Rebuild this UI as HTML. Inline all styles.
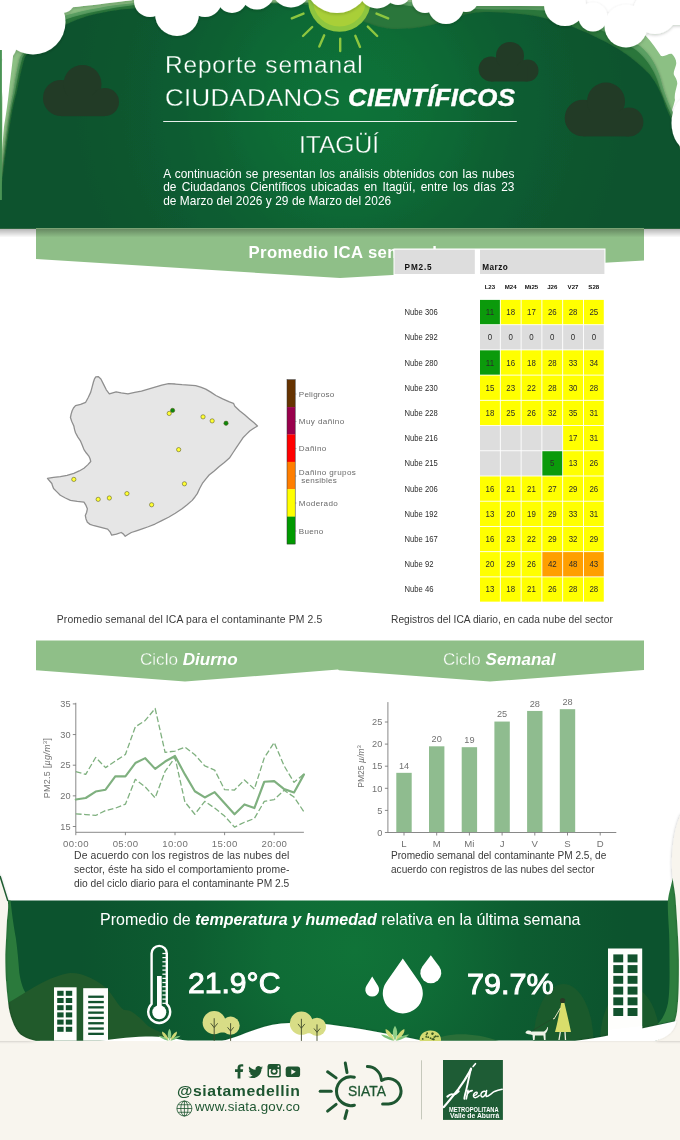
<!DOCTYPE html><html><head><meta charset="utf-8"><title>Reporte semanal</title><style>
html,body{margin:0;padding:0}
body{width:680px;height:1140px;position:relative;overflow:hidden;background:#fff;font-family:"Liberation Sans",sans-serif}
#bg{position:absolute;left:0;top:0;will-change:transform}
.t{position:absolute;white-space:nowrap;line-height:1;margin:0;padding:0}
.j{position:absolute;text-align:justify;text-align-last:justify;white-space:nowrap;line-height:1}
b.i{font-weight:bold;font-style:italic}
</style></head><body>
<svg id="bg" width="680" height="1140" viewBox="0 0 680 1140">
<defs>
<radialGradient id="hg" cx="350" cy="105" r="275" gradientUnits="userSpaceOnUse">
<stop offset="0" stop-color="#107338"/><stop offset="0.3" stop-color="#0f6c36"/><stop offset="0.6" stop-color="#0d5d31"/><stop offset="0.95" stop-color="#0c542e"/><stop offset="1" stop-color="#0c532e"/></radialGradient>
<linearGradient id="hsh" x1="0" y1="0" x2="0" y2="1"><stop offset="0" stop-color="#000" stop-opacity="0.30"/><stop offset="1" stop-color="#000" stop-opacity="0"/></linearGradient>
<filter id="cs" x="-10%" y="-10%" width="120%" height="140%"><feDropShadow dx="0" dy="1.2" stdDeviation="1.4" flood-color="#0a2a14" flood-opacity="0.22"/></filter>
<filter id="ls" x="-10%" y="-10%" width="120%" height="120%"><feDropShadow dx="0" dy="1" stdDeviation="1.5" flood-color="#000" flood-opacity="0.4"/></filter>
<clipPath id="hc"><rect x="0" y="0" width="680" height="228.5"/></clipPath>
</defs>
<g clip-path="url(#hc)">
<rect x="0" y="0" width="680" height="228" fill="#ffffff"/>
<path d="M0,229 L0,120 C1,100 4,80 12,56 C25,35 45,18 67,8.5 C85,5 110,2 135,0 L560,0 L600,20 L645,35 C652,42 657,50 661,56 C665,57 669,53 672,54 C675,57 677,61 676,65 C675,69 673,72 674,75 C676,78 678,82 677,85 C676,90 674,95 675,100 C674,104 673,107 672,110 L680,150 L680,229 Z" fill="#8cc084"/>
<path filter="url(#ls)" d="M0,229 L0,192 C1,182 1.8,172 2.6,163 C4,150 5.5,138 7,127.7 C9,113 11,102 13,92.6 C15,80 17,68 20,57 C31,40 48,24 67,15 C85,10 110,5 135,3 L300,2 L400,2 C450,3 500,5 548,7 C580,14 615,30 640,46 C650,54 657,66 661,80 C664,92 668,102 674,115 L680,150 L680,229 Z" fill="#5a9f62"/>
<path filter="url(#ls)" d="M0,229 L0,194 C1.5,184 2.6,173 3.5,163 C5,150 6.8,138 8.3,127.7 C10.5,113 12.5,102 15,92.6 C17,81 19.5,68 22.5,57 C32,43 50,28 67,19 C85,13 110,8 135,5 L300,3 L395,4 C420,8 440,9 470,9 C500,10 530,9 548,11 C580,18 612,34 636,50 C646,58 654,70 658,82 C661,93 666,104 672,117 L680,150 L680,229 Z" fill="#2a763b"/>
<path filter="url(#ls)" d="M0,229 L0,200 C1,192 2.5,178 4.4,163 C6.5,148 8,138 9.6,127.7 C12,112 14,102 16.7,92.6 C19,82 21.5,68 25,57 C31,48 38,42 45,37 C52,32 60,27 67,24 C80,18 90,15 101,13 C115,10 125,9 135,8.5 C200,3 260,2 308,5 L368,23 C378,27 388,29 396,29 C408,29 418,28 427,26 C440,23 450,20 458,17 C468,13 478,12 489,12 C500,12 510,13 520,14 C532,15 542,17 551,20 C562,23 572,26 580,30 C595,36 610,44 620,50 C632,58 642,66 650,75 C657,84 662,95 665,105 C668,112 670,117 673,122 L680,150 L680,229 Z" fill="url(#hg)"/>
<g fill="#223b26"><circle cx="61" cy="98" r="18"/><circle cx="82.5" cy="84" r="19"/><circle cx="105" cy="102" r="14"/><rect x="61" y="96" width="44" height="20.2"/></g>
<g fill="#223b26"><circle cx="491" cy="69" r="12.4"/><circle cx="510" cy="56" r="14"/><circle cx="527.5" cy="70.5" r="11"/><rect x="491" y="66" width="36.5" height="15.5"/></g>
<g fill="#223b26"><circle cx="583" cy="118" r="18.3"/><circle cx="606" cy="101.5" r="19"/><circle cx="629" cy="122" r="14.4"/><rect x="583" y="112" width="46" height="24.4"/></g>
<circle cx="339.5" cy="0.5" r="31.3" fill="#8dc63f"/><circle cx="339.5" cy="0" r="26.5" fill="#a9cf38"/>
<g stroke="#8dc63f" stroke-width="2.4" stroke-linecap="round"><line x1="291.8" y1="18.4" x2="303.5" y2="13.6"/><line x1="303" y1="36" x2="312.2" y2="27"/><line x1="319.3" y1="46.6" x2="324.2" y2="35.3"/><line x1="340.2" y1="51" x2="340.2" y2="38.8"/><line x1="360" y1="47" x2="355.3" y2="35.8"/><line x1="377.2" y1="36" x2="367.8" y2="26.6"/><line x1="388.2" y1="18.4" x2="376.5" y2="13.6"/></g>
<g fill="#fff" filter="url(#cs)"><circle cx="33" cy="22" r="32.5"/><circle cx="62" cy="0" r="13"/><circle cx="5" cy="48" r="11"/><circle cx="150" cy="1" r="16"/><circle cx="177" cy="14" r="22"/><circle cx="205" cy="0" r="17"/><circle cx="232" cy="-2" r="15"/><circle cx="257" cy="-8" r="17.5"/><circle cx="291" cy="-12" r="19.5"/><circle cx="337" cy="-20" r="33"/><circle cx="377" cy="-10" r="18.5"/><circle cx="398" cy="-8" r="13"/><circle cx="446" cy="6" r="18"/><circle cx="425" cy="0" r="13"/><circle cx="466" cy="0" r="12"/><circle cx="565" cy="5" r="21"/><circle cx="593" cy="17" r="14.5"/><circle cx="626" cy="26" r="21.5"/><circle cx="655" cy="12" r="22"/><rect x="-5" y="-5" width="75" height="12"/><rect x="-6" y="0" width="12" height="50"/><path d="M60,-5 L60,8 C80,7 110,3 140,-1 L140,-5 Z"/><rect x="470" y="-5" width="90" height="11"/><rect x="655" y="-5" width="30" height="30"/><ellipse cx="691" cy="123" rx="19.5" ry="28"/></g>
<path d="M2.4,50 L13.2,55 C11.5,70 10,82 8.8,92.6 C7.5,105 5.5,118 3.9,127.7 C3,138 2.6,145 2.3,152 Z" fill="#fff"/><rect x="0" y="50" width="1.9" height="150" fill="#4a9455"/>
</g>
<path d="M36,228 L644,228 L644,260.5 L340,278 L36,259 Z" fill="#8fbf88"/>
<rect x="0" y="228.5" width="680" height="9" fill="url(#hsh)"/>
<path d="M36,640.5 L644,640.5 L644,670 L490,681.6 L339,670.3 L338,669.6 L185,681.6 L36,670.3 Z" fill="#8fbf88"/>
<text x="248.5" y="257.5" font-family="Liberation Sans, sans-serif" font-size="16.7" font-weight="bold" fill="#fff" textLength="188.5" lengthAdjust="spacing">Promedio ICA semanal</text><rect x="163.2" y="121" width="353.6" height="1" fill="#fff" opacity="0.9"/>
<rect x="393.5" y="248.5" width="212" height="356" fill="#fff"/>
<rect x="394.5" y="249.7" width="80.3" height="24.3" fill="#dddddd"/>
<rect x="480" y="249.7" width="124.4" height="24.3" fill="#dddddd"/>
<rect x="480.00" y="299.90" width="19.88" height="24.32" fill="#0b9a0b"/><rect x="500.78" y="299.90" width="19.88" height="24.32" fill="#ffff00"/><rect x="521.56" y="299.90" width="19.88" height="24.32" fill="#ffff00"/><rect x="542.34" y="299.90" width="19.88" height="24.32" fill="#ffff00"/><rect x="563.12" y="299.90" width="19.88" height="24.32" fill="#ffff00"/><rect x="583.90" y="299.90" width="19.88" height="24.32" fill="#ffff00"/><rect x="480.00" y="325.12" width="19.88" height="24.32" fill="#dddddd"/><rect x="500.78" y="325.12" width="19.88" height="24.32" fill="#dddddd"/><rect x="521.56" y="325.12" width="19.88" height="24.32" fill="#dddddd"/><rect x="542.34" y="325.12" width="19.88" height="24.32" fill="#dddddd"/><rect x="563.12" y="325.12" width="19.88" height="24.32" fill="#dddddd"/><rect x="583.90" y="325.12" width="19.88" height="24.32" fill="#dddddd"/><rect x="480.00" y="350.34" width="19.88" height="24.32" fill="#0b9a0b"/><rect x="500.78" y="350.34" width="19.88" height="24.32" fill="#ffff00"/><rect x="521.56" y="350.34" width="19.88" height="24.32" fill="#ffff00"/><rect x="542.34" y="350.34" width="19.88" height="24.32" fill="#ffff00"/><rect x="563.12" y="350.34" width="19.88" height="24.32" fill="#ffff00"/><rect x="583.90" y="350.34" width="19.88" height="24.32" fill="#ffff00"/><rect x="480.00" y="375.56" width="19.88" height="24.32" fill="#ffff00"/><rect x="500.78" y="375.56" width="19.88" height="24.32" fill="#ffff00"/><rect x="521.56" y="375.56" width="19.88" height="24.32" fill="#ffff00"/><rect x="542.34" y="375.56" width="19.88" height="24.32" fill="#ffff00"/><rect x="563.12" y="375.56" width="19.88" height="24.32" fill="#ffff00"/><rect x="583.90" y="375.56" width="19.88" height="24.32" fill="#ffff00"/><rect x="480.00" y="400.78" width="19.88" height="24.32" fill="#ffff00"/><rect x="500.78" y="400.78" width="19.88" height="24.32" fill="#ffff00"/><rect x="521.56" y="400.78" width="19.88" height="24.32" fill="#ffff00"/><rect x="542.34" y="400.78" width="19.88" height="24.32" fill="#ffff00"/><rect x="563.12" y="400.78" width="19.88" height="24.32" fill="#ffff00"/><rect x="583.90" y="400.78" width="19.88" height="24.32" fill="#ffff00"/><rect x="480.00" y="426.00" width="19.88" height="24.32" fill="#dddddd"/><rect x="500.78" y="426.00" width="19.88" height="24.32" fill="#dddddd"/><rect x="521.56" y="426.00" width="19.88" height="24.32" fill="#dddddd"/><rect x="542.34" y="426.00" width="19.88" height="24.32" fill="#dddddd"/><rect x="563.12" y="426.00" width="19.88" height="24.32" fill="#ffff00"/><rect x="583.90" y="426.00" width="19.88" height="24.32" fill="#ffff00"/><rect x="480.00" y="451.22" width="19.88" height="24.32" fill="#dddddd"/><rect x="500.78" y="451.22" width="19.88" height="24.32" fill="#dddddd"/><rect x="521.56" y="451.22" width="19.88" height="24.32" fill="#dddddd"/><rect x="542.34" y="451.22" width="19.88" height="24.32" fill="#0b9a0b"/><rect x="563.12" y="451.22" width="19.88" height="24.32" fill="#ffff00"/><rect x="583.90" y="451.22" width="19.88" height="24.32" fill="#ffff00"/><rect x="480.00" y="476.44" width="19.88" height="24.32" fill="#ffff00"/><rect x="500.78" y="476.44" width="19.88" height="24.32" fill="#ffff00"/><rect x="521.56" y="476.44" width="19.88" height="24.32" fill="#ffff00"/><rect x="542.34" y="476.44" width="19.88" height="24.32" fill="#ffff00"/><rect x="563.12" y="476.44" width="19.88" height="24.32" fill="#ffff00"/><rect x="583.90" y="476.44" width="19.88" height="24.32" fill="#ffff00"/><rect x="480.00" y="501.66" width="19.88" height="24.32" fill="#ffff00"/><rect x="500.78" y="501.66" width="19.88" height="24.32" fill="#ffff00"/><rect x="521.56" y="501.66" width="19.88" height="24.32" fill="#ffff00"/><rect x="542.34" y="501.66" width="19.88" height="24.32" fill="#ffff00"/><rect x="563.12" y="501.66" width="19.88" height="24.32" fill="#ffff00"/><rect x="583.90" y="501.66" width="19.88" height="24.32" fill="#ffff00"/><rect x="480.00" y="526.88" width="19.88" height="24.32" fill="#ffff00"/><rect x="500.78" y="526.88" width="19.88" height="24.32" fill="#ffff00"/><rect x="521.56" y="526.88" width="19.88" height="24.32" fill="#ffff00"/><rect x="542.34" y="526.88" width="19.88" height="24.32" fill="#ffff00"/><rect x="563.12" y="526.88" width="19.88" height="24.32" fill="#ffff00"/><rect x="583.90" y="526.88" width="19.88" height="24.32" fill="#ffff00"/><rect x="480.00" y="552.10" width="19.88" height="24.32" fill="#ffff00"/><rect x="500.78" y="552.10" width="19.88" height="24.32" fill="#ffff00"/><rect x="521.56" y="552.10" width="19.88" height="24.32" fill="#ffff00"/><rect x="542.34" y="552.10" width="19.88" height="24.32" fill="#ff9f00"/><rect x="563.12" y="552.10" width="19.88" height="24.32" fill="#ff9f00"/><rect x="583.90" y="552.10" width="19.88" height="24.32" fill="#ff9f00"/><rect x="480.00" y="577.32" width="19.88" height="24.32" fill="#ffff00"/><rect x="500.78" y="577.32" width="19.88" height="24.32" fill="#ffff00"/><rect x="521.56" y="577.32" width="19.88" height="24.32" fill="#ffff00"/><rect x="542.34" y="577.32" width="19.88" height="24.32" fill="#ffff00"/><rect x="563.12" y="577.32" width="19.88" height="24.32" fill="#ffff00"/><rect x="583.90" y="577.32" width="19.88" height="24.32" fill="#ffff00"/>
<g font-family="Liberation Sans, sans-serif" fill="#111">
<text x="404.6" y="270.1" font-size="8.2" font-weight="bold" textLength="27" lengthAdjust="spacing">PM2.5</text>
<text x="482.2" y="270.1" font-size="8.2" font-weight="bold" textLength="25.5" lengthAdjust="spacing">Marzo</text>
<text x="489.89" y="289.4" font-size="6.1" font-weight="bold" text-anchor="middle">L23</text>
<text x="510.67" y="289.4" font-size="6.1" font-weight="bold" text-anchor="middle">M24</text>
<text x="531.45" y="289.4" font-size="6.1" font-weight="bold" text-anchor="middle">Mi25</text>
<text x="552.23" y="289.4" font-size="6.1" font-weight="bold" text-anchor="middle">J26</text>
<text x="573.01" y="289.4" font-size="6.1" font-weight="bold" text-anchor="middle">V27</text>
<text x="593.79" y="289.4" font-size="6.1" font-weight="bold" text-anchor="middle">S28</text>
</g>
<g font-family="Liberation Sans, sans-serif" fill="#2b2b2b" font-size="8.5">
<text transform="translate(404.6,315.06) scale(0.9,1)">Nube 306</text>
<text transform="translate(489.94,315.06) scale(0.93,1)" text-anchor="middle">11</text>
<text transform="translate(510.72,315.06) scale(0.93,1)" text-anchor="middle">18</text>
<text transform="translate(531.50,315.06) scale(0.93,1)" text-anchor="middle">17</text>
<text transform="translate(552.28,315.06) scale(0.93,1)" text-anchor="middle">26</text>
<text transform="translate(573.06,315.06) scale(0.93,1)" text-anchor="middle">28</text>
<text transform="translate(593.84,315.06) scale(0.93,1)" text-anchor="middle">25</text>
<text transform="translate(404.6,340.28) scale(0.9,1)">Nube 292</text>
<text transform="translate(489.94,340.28) scale(0.93,1)" text-anchor="middle">0</text>
<text transform="translate(510.72,340.28) scale(0.93,1)" text-anchor="middle">0</text>
<text transform="translate(531.50,340.28) scale(0.93,1)" text-anchor="middle">0</text>
<text transform="translate(552.28,340.28) scale(0.93,1)" text-anchor="middle">0</text>
<text transform="translate(573.06,340.28) scale(0.93,1)" text-anchor="middle">0</text>
<text transform="translate(593.84,340.28) scale(0.93,1)" text-anchor="middle">0</text>
<text transform="translate(404.6,365.50) scale(0.9,1)">Nube 280</text>
<text transform="translate(489.94,365.50) scale(0.93,1)" text-anchor="middle">11</text>
<text transform="translate(510.72,365.50) scale(0.93,1)" text-anchor="middle">16</text>
<text transform="translate(531.50,365.50) scale(0.93,1)" text-anchor="middle">18</text>
<text transform="translate(552.28,365.50) scale(0.93,1)" text-anchor="middle">28</text>
<text transform="translate(573.06,365.50) scale(0.93,1)" text-anchor="middle">33</text>
<text transform="translate(593.84,365.50) scale(0.93,1)" text-anchor="middle">34</text>
<text transform="translate(404.6,390.72) scale(0.9,1)">Nube 230</text>
<text transform="translate(489.94,390.72) scale(0.93,1)" text-anchor="middle">15</text>
<text transform="translate(510.72,390.72) scale(0.93,1)" text-anchor="middle">23</text>
<text transform="translate(531.50,390.72) scale(0.93,1)" text-anchor="middle">22</text>
<text transform="translate(552.28,390.72) scale(0.93,1)" text-anchor="middle">28</text>
<text transform="translate(573.06,390.72) scale(0.93,1)" text-anchor="middle">30</text>
<text transform="translate(593.84,390.72) scale(0.93,1)" text-anchor="middle">28</text>
<text transform="translate(404.6,415.94) scale(0.9,1)">Nube 228</text>
<text transform="translate(489.94,415.94) scale(0.93,1)" text-anchor="middle">18</text>
<text transform="translate(510.72,415.94) scale(0.93,1)" text-anchor="middle">25</text>
<text transform="translate(531.50,415.94) scale(0.93,1)" text-anchor="middle">26</text>
<text transform="translate(552.28,415.94) scale(0.93,1)" text-anchor="middle">32</text>
<text transform="translate(573.06,415.94) scale(0.93,1)" text-anchor="middle">35</text>
<text transform="translate(593.84,415.94) scale(0.93,1)" text-anchor="middle">31</text>
<text transform="translate(404.6,441.16) scale(0.9,1)">Nube 216</text>
<text transform="translate(573.06,441.16) scale(0.93,1)" text-anchor="middle">17</text>
<text transform="translate(593.84,441.16) scale(0.93,1)" text-anchor="middle">31</text>
<text transform="translate(404.6,466.38) scale(0.9,1)">Nube 215</text>
<text transform="translate(552.28,466.38) scale(0.93,1)" text-anchor="middle">5</text>
<text transform="translate(573.06,466.38) scale(0.93,1)" text-anchor="middle">13</text>
<text transform="translate(593.84,466.38) scale(0.93,1)" text-anchor="middle">26</text>
<text transform="translate(404.6,491.60) scale(0.9,1)">Nube 206</text>
<text transform="translate(489.94,491.60) scale(0.93,1)" text-anchor="middle">16</text>
<text transform="translate(510.72,491.60) scale(0.93,1)" text-anchor="middle">21</text>
<text transform="translate(531.50,491.60) scale(0.93,1)" text-anchor="middle">21</text>
<text transform="translate(552.28,491.60) scale(0.93,1)" text-anchor="middle">27</text>
<text transform="translate(573.06,491.60) scale(0.93,1)" text-anchor="middle">29</text>
<text transform="translate(593.84,491.60) scale(0.93,1)" text-anchor="middle">26</text>
<text transform="translate(404.6,516.82) scale(0.9,1)">Nube 192</text>
<text transform="translate(489.94,516.82) scale(0.93,1)" text-anchor="middle">13</text>
<text transform="translate(510.72,516.82) scale(0.93,1)" text-anchor="middle">20</text>
<text transform="translate(531.50,516.82) scale(0.93,1)" text-anchor="middle">19</text>
<text transform="translate(552.28,516.82) scale(0.93,1)" text-anchor="middle">29</text>
<text transform="translate(573.06,516.82) scale(0.93,1)" text-anchor="middle">33</text>
<text transform="translate(593.84,516.82) scale(0.93,1)" text-anchor="middle">31</text>
<text transform="translate(404.6,542.04) scale(0.9,1)">Nube 167</text>
<text transform="translate(489.94,542.04) scale(0.93,1)" text-anchor="middle">16</text>
<text transform="translate(510.72,542.04) scale(0.93,1)" text-anchor="middle">23</text>
<text transform="translate(531.50,542.04) scale(0.93,1)" text-anchor="middle">22</text>
<text transform="translate(552.28,542.04) scale(0.93,1)" text-anchor="middle">29</text>
<text transform="translate(573.06,542.04) scale(0.93,1)" text-anchor="middle">32</text>
<text transform="translate(593.84,542.04) scale(0.93,1)" text-anchor="middle">29</text>
<text transform="translate(404.6,567.26) scale(0.9,1)">Nube 92</text>
<text transform="translate(489.94,567.26) scale(0.93,1)" text-anchor="middle">20</text>
<text transform="translate(510.72,567.26) scale(0.93,1)" text-anchor="middle">29</text>
<text transform="translate(531.50,567.26) scale(0.93,1)" text-anchor="middle">26</text>
<text transform="translate(552.28,567.26) scale(0.93,1)" text-anchor="middle">42</text>
<text transform="translate(573.06,567.26) scale(0.93,1)" text-anchor="middle">48</text>
<text transform="translate(593.84,567.26) scale(0.93,1)" text-anchor="middle">43</text>
<text transform="translate(404.6,592.48) scale(0.9,1)">Nube 46</text>
<text transform="translate(489.94,592.48) scale(0.93,1)" text-anchor="middle">13</text>
<text transform="translate(510.72,592.48) scale(0.93,1)" text-anchor="middle">18</text>
<text transform="translate(531.50,592.48) scale(0.93,1)" text-anchor="middle">21</text>
<text transform="translate(552.28,592.48) scale(0.93,1)" text-anchor="middle">26</text>
<text transform="translate(573.06,592.48) scale(0.93,1)" text-anchor="middle">28</text>
<text transform="translate(593.84,592.48) scale(0.93,1)" text-anchor="middle">28</text>
</g>
<g transform="translate(40,360) scale(0.33824)">
<path d="M165,50 L172,49 L180,56 L188,72 L196,88 L205,100 L215,97 L225,94 L240,97 L260,100 L280,96 L300,92 L320,86 L340,80 L360,74 L380,70 L400,71 L420,73 L440,74 L460,76 L475,80 L490,86 L505,95 L520,105 L540,115 L560,124 L572,128 L576,137 L590,150 L605,162 L620,175 L632,185 L643,195 L632,202 L620,210 L610,220 L600,230 L590,245 L580,260 L570,275 L560,290 L545,303 L530,315 L515,328 L500,340 L490,352 L480,365 L472,380 L465,395 L458,405 L450,415 L435,428 L420,440 L400,453 L380,465 L360,475 L340,485 L320,493 L300,500 L285,505 L270,510 L260,516 L252,521 L246,514 L240,510 L226,515 L212,518 L207,508 L200,500 L180,495 L160,490 L148,486 L140,480 L136,470 L134,460 L138,450 L140,440 L136,430 L130,420 L110,418 L90,415 L75,408 L60,400 L50,390 L40,380 L37,372 L35,365 L28,357 L22,350 L40,347 L60,345 L80,341 L100,335 L116,328 L130,320 L141,310 L150,300 L148,292 L145,285 L137,275 L130,265 L125,252 L120,240 L112,228 L105,215 L102,205 L100,195 L94,182 L90,170 L92,160 L95,150 L99,142 L105,135 L120,131 L135,125 L143,110 L150,95 L154,80 L158,65 L161,56 Z" fill="#e6e6e6" stroke="#8f8f8f" stroke-width="3.8" stroke-linejoin="round"/>
<circle cx="382" cy="158" r="6.3" fill="#ffff33" stroke="#55551a" stroke-width="1.6"/>
<circle cx="392" cy="149" r="6.3" fill="#0b8a0b" stroke="#55551a" stroke-width="1.6"/>
<circle cx="482" cy="168" r="6.3" fill="#ffff33" stroke="#55551a" stroke-width="1.6"/>
<circle cx="509" cy="180" r="6.3" fill="#ffff33" stroke="#55551a" stroke-width="1.6"/>
<circle cx="550" cy="187" r="6.3" fill="#0b8a0b" stroke="#55551a" stroke-width="1.6"/>
<circle cx="410" cy="265" r="6.3" fill="#ffff33" stroke="#55551a" stroke-width="1.6"/>
<circle cx="427" cy="366" r="6.3" fill="#ffff33" stroke="#55551a" stroke-width="1.6"/>
<circle cx="100" cy="353" r="6.3" fill="#ffff33" stroke="#55551a" stroke-width="1.6"/>
<circle cx="172" cy="412" r="6.3" fill="#ffff33" stroke="#55551a" stroke-width="1.6"/>
<circle cx="205" cy="408" r="6.3" fill="#ffff33" stroke="#55551a" stroke-width="1.6"/>
<circle cx="257" cy="395" r="6.3" fill="#ffff33" stroke="#55551a" stroke-width="1.6"/>
<circle cx="330" cy="428" r="6.3" fill="#ffff33" stroke="#55551a" stroke-width="1.6"/>
</g>
<rect x="287" y="379.70" width="8.2" height="27.58" fill="#663300"/>
<rect x="287" y="407.08" width="8.2" height="27.58" fill="#99004c"/>
<rect x="287" y="434.47" width="8.2" height="27.58" fill="#ff0000"/>
<rect x="287" y="461.85" width="8.2" height="27.58" fill="#ff7e00"/>
<rect x="287" y="489.23" width="8.2" height="27.58" fill="#ffff00"/>
<rect x="287" y="516.62" width="8.2" height="27.58" fill="#009a00"/>
<rect x="287" y="379.7" width="8.2" height="164.3" fill="none" stroke="#333" stroke-width="0.5"/>
<line x1="295.2" y1="394" x2="296.4" y2="394" stroke="#555" stroke-width="0.5"/>
<line x1="295.2" y1="421.5" x2="296.4" y2="421.5" stroke="#555" stroke-width="0.5"/>
<line x1="295.2" y1="448.5" x2="296.4" y2="448.5" stroke="#555" stroke-width="0.5"/>
<line x1="295.2" y1="476" x2="296.4" y2="476" stroke="#555" stroke-width="0.5"/>
<line x1="295.2" y1="503" x2="296.4" y2="503" stroke="#555" stroke-width="0.5"/>
<line x1="295.2" y1="531" x2="296.4" y2="531" stroke="#555" stroke-width="0.5"/>
<g font-family="Liberation Sans, sans-serif" fill="#6a6a6a" font-size="8.1">
<text x="298.8" y="396.9" textLength="35.4" lengthAdjust="spacing">Peligroso</text>
<text x="298.8" y="424.4" textLength="45.5" lengthAdjust="spacing">Muy dañino</text>
<text x="298.8" y="451.4" textLength="27.5" lengthAdjust="spacing">Dañino</text>
<text x="298.8" y="474.9" textLength="57" lengthAdjust="spacing">Dañino grupos</text>
<text x="298.8" y="505.9" textLength="39" lengthAdjust="spacing">Moderado</text>
<text x="298.8" y="533.9" textLength="24.5" lengthAdjust="spacing">Bueno</text>
<text x="301.3" y="483.4" textLength="35.5" lengthAdjust="spacing">sensibles</text>
</g>
<g stroke="#6b6b6b" stroke-width="0.8" fill="none">
<path d="M75.8,702.8 L75.8,832.3 L303.9,832.3"/>
<line x1="72.8" y1="826.50" x2="75.8" y2="826.50"/>
<line x1="72.8" y1="795.85" x2="75.8" y2="795.85"/>
<line x1="72.8" y1="765.20" x2="75.8" y2="765.20"/>
<line x1="72.8" y1="734.55" x2="75.8" y2="734.55"/>
<line x1="72.8" y1="703.90" x2="75.8" y2="703.90"/>
<line x1="75.80" y1="832.3" x2="75.80" y2="835.2"/>
<line x1="125.40" y1="832.3" x2="125.40" y2="835.2"/>
<line x1="175.00" y1="832.3" x2="175.00" y2="835.2"/>
<line x1="224.60" y1="832.3" x2="224.60" y2="835.2"/>
<line x1="274.20" y1="832.3" x2="274.20" y2="835.2"/>
</g>
<path d="M75.80,771.51 L85.72,774.39 L95.64,757.48 L105.56,767.65 L115.48,760.91 L125.40,754.47 L135.32,726.89 L145.24,720.45 L155.16,708.50 L165.08,752.33 L175.00,751.10 L184.92,747.12 L194.84,754.78 L204.76,765.81 L214.68,770.10 L224.60,789.72 L234.52,790.03 L244.44,779.91 L254.36,789.11 L264.28,757.84 L274.20,742.52 L284.12,765.81 L294.04,782.36 L303.96,774.09" fill="none" stroke="#7fb07f" stroke-width="1.3" stroke-dasharray="5.8,2.5" stroke-linejoin="round"/>
<path d="M75.80,813.87 L85.72,814.55 L95.64,815.47 L105.56,810.56 L115.48,808.11 L125.40,804.19 L135.32,779.30 L145.24,786.96 L155.16,797.87 L165.08,771.33 L175.00,757.48 L184.92,801.98 L194.84,814.24 L204.76,801.37 L214.68,808.11 L224.60,816.08 L234.52,827.11 L244.44,822.21 L254.36,818.53 L264.28,801.37 L274.20,799.53 L284.12,790.33 L294.04,797.08 L303.96,811.79" fill="none" stroke="#7fb07f" stroke-width="1.3" stroke-dasharray="5.8,2.5" stroke-linejoin="round"/>
<path d="M75.80,799.53 L85.72,798.00 L95.64,791.56 L105.56,789.72 L115.48,776.23 L125.40,776.42 L135.32,763.05 L145.24,758.15 L155.16,768.88 L165.08,761.52 L175.00,756.00 L184.92,774.39 L194.84,791.25 L204.76,797.44 L214.68,792.17 L224.60,803.21 L234.52,814.24 L244.44,804.43 L254.36,808.11 L264.28,781.75 L274.20,781.14 L284.12,789.11 L294.04,792.48 L303.96,774.39" fill="none" stroke="#7fb07f" stroke-width="2.15" stroke-linejoin="round" stroke-linecap="round"/>
<g stroke="#6b6b6b" stroke-width="0.8" fill="none">
<path d="M387.9,702.1 L387.9,832.5 L616.3,832.5"/>
<line x1="384.9" y1="832.50" x2="387.9" y2="832.50"/>
<line x1="384.9" y1="810.40" x2="387.9" y2="810.40"/>
<line x1="384.9" y1="788.30" x2="387.9" y2="788.30"/>
<line x1="384.9" y1="766.20" x2="387.9" y2="766.20"/>
<line x1="384.9" y1="744.10" x2="387.9" y2="744.10"/>
<line x1="384.9" y1="722.00" x2="387.9" y2="722.00"/>
<line x1="404.00" y1="832.5" x2="404.00" y2="835.5"/>
<line x1="436.70" y1="832.5" x2="436.70" y2="835.5"/>
<line x1="469.40" y1="832.5" x2="469.40" y2="835.5"/>
<line x1="502.10" y1="832.5" x2="502.10" y2="835.5"/>
<line x1="534.80" y1="832.5" x2="534.80" y2="835.5"/>
<line x1="567.50" y1="832.5" x2="567.50" y2="835.5"/>
<line x1="600.20" y1="832.5" x2="600.20" y2="835.5"/>
</g>
<rect x="396.30" y="772.83" width="15.4" height="59.27" fill="#8fbc8f"/>
<rect x="429.00" y="746.31" width="15.4" height="85.79" fill="#8fbc8f"/>
<rect x="461.70" y="747.19" width="15.4" height="84.91" fill="#8fbc8f"/>
<rect x="494.40" y="721.56" width="15.4" height="110.54" fill="#8fbc8f"/>
<rect x="527.10" y="710.95" width="15.4" height="121.15" fill="#8fbc8f"/>
<rect x="559.80" y="709.18" width="15.4" height="122.92" fill="#8fbc8f"/>
<g font-family="Liberation Sans, sans-serif" fill="#727272" font-size="9.2">
<text x="70.5" y="829.70" text-anchor="end">15</text>
<text x="70.5" y="799.05" text-anchor="end">20</text>
<text x="70.5" y="768.40" text-anchor="end">25</text>
<text x="70.5" y="737.75" text-anchor="end">30</text>
<text x="70.5" y="707.10" text-anchor="end">35</text>
<text x="75.80" y="846.6" text-anchor="middle" font-size="9.6" textLength="25.5" lengthAdjust="spacing">00:00</text>
<text x="125.40" y="846.6" text-anchor="middle" font-size="9.6" textLength="25.5" lengthAdjust="spacing">05:00</text>
<text x="175.00" y="846.6" text-anchor="middle" font-size="9.6" textLength="25.5" lengthAdjust="spacing">10:00</text>
<text x="224.60" y="846.6" text-anchor="middle" font-size="9.6" textLength="25.5" lengthAdjust="spacing">15:00</text>
<text x="274.20" y="846.6" text-anchor="middle" font-size="9.6" textLength="25.5" lengthAdjust="spacing">20:00</text>
<text transform="translate(50.4,768) rotate(-90)" text-anchor="middle" font-size="9" letter-spacing="0.25">PM2.5 [<tspan font-style="italic">µg/m</tspan><tspan font-size="6" dy="-3">3</tspan><tspan dy="3">]</tspan></text>
<text x="382.3" y="835.70" text-anchor="end">0</text>
<text x="382.3" y="813.60" text-anchor="end">5</text>
<text x="382.3" y="791.50" text-anchor="end">10</text>
<text x="382.3" y="769.40" text-anchor="end">15</text>
<text x="382.3" y="747.30" text-anchor="end">20</text>
<text x="382.3" y="725.20" text-anchor="end">25</text>
<text x="404.00" y="847" text-anchor="middle" font-size="9.6">L</text>
<text x="436.70" y="847" text-anchor="middle" font-size="9.6">M</text>
<text x="469.40" y="847" text-anchor="middle" font-size="9.6">Mi</text>
<text x="502.10" y="847" text-anchor="middle" font-size="9.6">J</text>
<text x="534.80" y="847" text-anchor="middle" font-size="9.6">V</text>
<text x="567.50" y="847" text-anchor="middle" font-size="9.6">S</text>
<text x="600.20" y="847" text-anchor="middle" font-size="9.6">D</text>
<text x="404.00" y="768.63" text-anchor="middle" font-size="9.2">14</text>
<text x="436.70" y="742.11" text-anchor="middle" font-size="9.2">20</text>
<text x="469.40" y="742.99" text-anchor="middle" font-size="9.2">19</text>
<text x="502.10" y="717.36" text-anchor="middle" font-size="9.2">25</text>
<text x="534.80" y="706.75" text-anchor="middle" font-size="9.2">28</text>
<text x="567.50" y="704.98" text-anchor="middle" font-size="9.2">28</text>
<text transform="translate(364.2,766.5) rotate(-90)" text-anchor="middle" font-size="8.6">PM25 <tspan font-style="italic">µ/m</tspan><tspan font-size="6" dy="-3">3</tspan></text>
</g>
<defs>
<radialGradient id="bgd" cx="355" cy="950" r="275" gradientUnits="userSpaceOnUse"><stop offset="0" stop-color="#107338"/><stop offset="0.3" stop-color="#0f6c36"/><stop offset="0.6" stop-color="#0d5d31"/><stop offset="0.95" stop-color="#0c542e"/><stop offset="1" stop-color="#0c532e"/></radialGradient>
<clipPath id="bc"><rect x="0" y="900.5" width="680" height="140.1"/></clipPath>
<filter id="ws" x="-5%" y="-30%" width="110%" height="160%"><feDropShadow dx="0" dy="-0.5" stdDeviation="1.2" flood-color="#000" flood-opacity="0.18"/></filter>
<filter id="es" x="-50%" y="-5%" width="200%" height="110%"><feDropShadow dx="0" dy="0" stdDeviation="1.6" flood-color="#000" flood-opacity="0.28"/></filter>
</defs>
<rect x="0" y="1040.6" width="680" height="100" fill="#f8f5ee"/>
<g clip-path="url(#bc)">
<rect x="0" y="900" width="680" height="141" fill="url(#bgd)"/>
<path d="M0,900 L10.5,900 C12,915 14,928 15.8,937.7 C17.5,950 18.5,962 19.3,972.8 C21,984 23.5,990 26.3,994 C30,1000 34,1010 36,1020 L40,1041 L0,1041 Z" fill="#2b7a3c"/>
<path d="M8,1003 C25,993 50,975 70.6,973 C85,973 98,981 106,988 C114,996 118,1006 124,1010 C132,1009 140,1018 148,1026 C156,1031 166,1034 180,1041 L8,1041 Z" fill="#215a2b"/>
<ellipse cx="563.5" cy="1042" rx="30" ry="58" fill="#1a5a2c"/>
<ellipse cx="630" cy="1042" rx="30" ry="55" fill="#1a5a2c"/>
<path d="M432,1041 C445,1033 470,1031 499,1041 Z" fill="#2a6e38"/>
</g>
<path d="M672.8,878 C670.5,889 667.6,896 667.8,906 C668,920 669.4,930 669.4,945 C669.6,975 670,990 668,1003 C666,1013 662,1020 657,1024.5 L680,1020 L680,878 Z" fill="#2e7d3e"/>
<path filter="url(#es)" d="M-4,872 L0,876 C2,882 5,892 7.9,901 C8.5,910 7.5,915 7,920 C6.5,930 5.8,945 5.3,955 C5.3,965 5.6,975 6.1,981.6 C6.8,992 7.8,1000 8.8,1008 C10,1015 12,1020 14,1025 C16.5,1030 19,1034 22.8,1036 C27,1038.5 31,1039.5 36,1041 L-4,1041 Z" fill="#f8f5ee"/>
<path d="M0,876 C2,882 5,892 7.9,901" fill="none" stroke="#1d5c30" stroke-width="1.5"/>
<path filter="url(#es)" d="M684,812 L680,816 C676,826 674,835 673,845 C671.5,858 671.6,868 672.6,878 C674,888 675.7,895 676,905 C677,920 678.5,940 678.9,960 C679,985 678.6,1000 677,1012 C675,1025 670,1035 655,1041 L684,1041 Z" fill="#f8f5ee"/>
<path filter="url(#ws)" d="M222,1041 C240,1037 258,1026 281,1023.5 C300,1022 320,1023 340,1026 C370,1030 400,1036 424,1041 Z" fill="#fff"/>
<path filter="url(#ws)" d="M575,1041 C600,1038 640,1029 676.5,1021 C675,1030 669,1037 655,1041 Z" fill="#fff"/>
<path d="M100,1041 C116,1038.5 135,1036.5 152,1036.5 C168,1037 180,1039.5 188,1041 Z" fill="#fff"/>
<rect x="54" y="987.3" width="22.6" height="53.4" fill="#fefefc"/>
<rect x="57.2" y="990.8" width="6.4" height="5" fill="#12522d"/>
<rect x="65.8" y="990.8" width="6.4" height="5" fill="#12522d"/>
<rect x="57.2" y="998.0" width="6.4" height="5" fill="#12522d"/>
<rect x="65.8" y="998.0" width="6.4" height="5" fill="#12522d"/>
<rect x="57.2" y="1005.2" width="6.4" height="5" fill="#12522d"/>
<rect x="65.8" y="1005.2" width="6.4" height="5" fill="#12522d"/>
<rect x="57.2" y="1012.4" width="6.4" height="5" fill="#12522d"/>
<rect x="65.8" y="1012.4" width="6.4" height="5" fill="#12522d"/>
<rect x="57.2" y="1019.6" width="6.4" height="5" fill="#12522d"/>
<rect x="65.8" y="1019.6" width="6.4" height="5" fill="#12522d"/>
<rect x="57.2" y="1026.8" width="6.4" height="5" fill="#12522d"/>
<rect x="65.8" y="1026.8" width="6.4" height="5" fill="#12522d"/>
<rect x="83.2" y="988.2" width="24.8" height="52.5" fill="#fefefc"/>
<rect x="88.2" y="995.6" width="15.6" height="2.3" fill="#12522d"/>
<rect x="88.2" y="1000.9" width="15.6" height="2.3" fill="#12522d"/>
<rect x="88.2" y="1006.2" width="15.6" height="2.3" fill="#12522d"/>
<rect x="88.2" y="1011.5" width="15.6" height="2.3" fill="#12522d"/>
<rect x="88.2" y="1016.8" width="15.6" height="2.3" fill="#12522d"/>
<rect x="88.2" y="1022.1" width="15.6" height="2.3" fill="#12522d"/>
<rect x="88.2" y="1027.4" width="15.6" height="2.3" fill="#12522d"/>
<rect x="88.2" y="1032.7" width="15.6" height="2.3" fill="#12522d"/>
<rect x="608" y="948.5" width="34.2" height="84" fill="#fefefc"/>
<path d="M608,1030 L642.2,1026 L642.2,1034 L608,1038 Z" fill="#fff"/>
<rect x="613.3" y="954.4" width="9.9" height="8" fill="#12522d"/>
<rect x="627.6" y="954.4" width="9.9" height="8" fill="#12522d"/>
<rect x="613.3" y="965.1" width="9.9" height="8" fill="#12522d"/>
<rect x="627.6" y="965.1" width="9.9" height="8" fill="#12522d"/>
<rect x="613.3" y="975.8" width="9.9" height="8" fill="#12522d"/>
<rect x="627.6" y="975.8" width="9.9" height="8" fill="#12522d"/>
<rect x="613.3" y="986.6" width="9.9" height="8" fill="#12522d"/>
<rect x="627.6" y="986.6" width="9.9" height="8" fill="#12522d"/>
<rect x="613.3" y="997.3" width="9.9" height="8" fill="#12522d"/>
<rect x="627.6" y="997.3" width="9.9" height="8" fill="#12522d"/>
<rect x="613.3" y="1008.0" width="9.9" height="8" fill="#12522d"/>
<rect x="627.6" y="1008.0" width="9.9" height="8" fill="#12522d"/>
<g fill="none" stroke="#fff" stroke-width="2.4">
<path d="M151.6,1004 L151.6,953.5 A7.6,7.6 0 0 1 166.8,953.5 L166.8,1004 A11,11 0 1 1 151.6,1004 Z"/>
</g>
<circle cx="159.3" cy="1012.3" r="7" fill="#fff"/><rect x="157" y="976" width="4.7" height="32" fill="#fff"/>
<g stroke="#fff" stroke-width="1.25"><line x1="162.4" y1="953.5" x2="166.6" y2="953.5"/><line x1="162.4" y1="957.6" x2="166.6" y2="957.6"/><line x1="162.4" y1="961.8" x2="166.6" y2="961.8"/><line x1="162.4" y1="966.0" x2="166.6" y2="966.0"/><line x1="162.4" y1="970.1" x2="166.6" y2="970.1"/><line x1="162.4" y1="974.2" x2="166.6" y2="974.2"/><line x1="162.4" y1="978.4" x2="166.6" y2="978.4"/><line x1="162.4" y1="982.5" x2="166.6" y2="982.5"/><line x1="162.4" y1="986.7" x2="166.6" y2="986.7"/><line x1="162.4" y1="990.9" x2="166.6" y2="990.9"/><line x1="162.4" y1="995.0" x2="166.6" y2="995.0"/><line x1="162.4" y1="999.1" x2="166.6" y2="999.1"/><line x1="162.4" y1="1003.3" x2="166.6" y2="1003.3"/></g>
<path d="M402.8,958.5 L419.19,981.94 A20,20 0 1 1 386.41,981.94 Z" fill="#fff"/>
<path d="M372.2,976.5 L378.08,986.09 A6.9,6.9 0 1 1 366.32,986.09 Z" fill="#fff"/>
<path d="M430.8,955.2 L439.20,966.40 A10.5,10.5 0 1 1 422.40,966.40 Z" fill="#fff"/>
<circle cx="214.2" cy="1022.6" r="11.6" fill="#d8dd86"/><circle cx="230.6" cy="1025.6" r="9.1" fill="#d8dd86"/><rect x="208.2" y="1024.6" width="26.400000000000006" height="8" rx="4" fill="#d8dd86"/>
<g stroke="#3f4a2a" stroke-width="0.9" fill="none" stroke-linecap="round"><path d="M214.2,1018.6 L214.2,1040.5 M211.0,1023.6 L214.2,1027.6 L217.39999999999998,1023.6"/><path d="M230.6,1023.5999999999999 L230.6,1040.5 M227.79999999999998,1027.6 L230.6,1031.1 L233.4,1027.6"/></g>
<circle cx="301.4" cy="1023.2" r="11.6" fill="#d8dd86"/><circle cx="317" cy="1026.8" r="9.1" fill="#d8dd86"/><rect x="295.4" y="1025.2" width="25.600000000000023" height="8" rx="4" fill="#d8dd86"/>
<g stroke="#3f4a2a" stroke-width="0.9" fill="none" stroke-linecap="round"><path d="M301.4,1019.2 L301.4,1040.5 M298.2,1024.2 L301.4,1028.2 L304.59999999999997,1024.2"/><path d="M317,1024.8 L317,1040.5 M314.2,1028.8 L317,1032.3 L319.8,1028.8"/></g>
<path d="M169.5,1040.8 C166.2,1034.8 168.4,1030.6 169.5,1028.8 C170.6,1030.6 172.8,1034.8 169.5,1040.8 Z" fill="#8fcf86"/><path d="M168.5,1040.8 C162.9,1036.6 161.58,1033.6 162.24,1031.44 C166.2,1033.6 168.4,1037.2 168.5,1040.8 Z" fill="#cfd976"/><path d="M170.5,1040.8 C176.1,1036.6 177.42,1033.6 176.76,1031.44 C172.8,1033.6 170.6,1037.2 170.5,1040.8 Z" fill="#cfd976"/><path d="M168.5,1040.8 C162.9,1039.6 159.6,1037.2 158.5,1035.76 C162.9,1036.0 167.3,1038.3999999999999 168.5,1040.8 Z" fill="#7cc27a"/><path d="M170.5,1040.8 C176.1,1039.6 179.4,1037.2 180.5,1035.76 C176.1,1036.0 171.7,1038.3999999999999 170.5,1040.8 Z" fill="#7cc27a"/>
<path d="M395,1040.8 C390.8,1033.3 393.6,1028.05 395,1025.8 C396.4,1028.05 399.2,1033.3 395,1040.8 Z" fill="#8fcf86"/><path d="M394,1040.8 C386.6,1035.55 384.92,1031.8 385.76,1029.1 C390.8,1031.8 393.6,1036.3 394,1040.8 Z" fill="#cfd976"/><path d="M396,1040.8 C403.4,1035.55 405.08,1031.8 404.24,1029.1 C399.2,1031.8 396.4,1036.3 396,1040.8 Z" fill="#cfd976"/><path d="M394,1040.8 C386.6,1039.3 382.4,1036.3 381.0,1034.5 C386.6,1034.8 392.2,1037.8 394,1040.8 Z" fill="#7cc27a"/><path d="M396,1040.8 C403.4,1039.3 407.6,1036.3 409.0,1034.5 C403.4,1034.8 397.8,1037.8 396,1040.8 Z" fill="#7cc27a"/>
<path d="M419.6,1041 C419,1035 424,1030.8 430,1030.5 C437,1030.2 441.6,1035 441,1041 Z" fill="#d3da72"/>
<circle cx="426.2" cy="1036.8" r="0.9" fill="#3c5a22"/><circle cx="428.2" cy="1037.2" r="0.9" fill="#3c5a22"/><circle cx="432.2" cy="1033.5" r="0.9" fill="#3c5a22"/><circle cx="422.7" cy="1038.9" r="0.9" fill="#3c5a22"/><circle cx="426.5" cy="1034.6" r="0.9" fill="#3c5a22"/><circle cx="437.9" cy="1036.3" r="0.9" fill="#3c5a22"/><circle cx="435.5" cy="1036.3" r="0.9" fill="#3c5a22"/><circle cx="432.4" cy="1034.1" r="0.9" fill="#3c5a22"/><circle cx="432.3" cy="1039.1" r="0.9" fill="#3c5a22"/><circle cx="430.6" cy="1038.2" r="0.9" fill="#3c5a22"/><circle cx="432.9" cy="1033.4" r="0.9" fill="#3c5a22"/><circle cx="434.3" cy="1037.1" r="0.9" fill="#3c5a22"/><circle cx="427.2" cy="1033.2" r="0.9" fill="#3c5a22"/><circle cx="435.9" cy="1036.3" r="0.9" fill="#3c5a22"/><circle cx="433.6" cy="1039.2" r="0.9" fill="#3c5a22"/><circle cx="433.6" cy="1039.4" r="0.9" fill="#3c5a22"/>
<circle cx="562.6" cy="1000.5" r="2.6" fill="#2b3a26"/>
<path d="M561.2,1003 L564.4,1003 C566.5,1012 569.5,1024 571,1032 L555,1032 C557.5,1023 559.5,1012 561.2,1003 Z" fill="#d9de6b"/>
<path d="M560.5,1008 L554,1019 L553,1018.5" stroke="#e8e6c0" stroke-width="1" fill="none"/>
<path d="M560.3,1032 L559,1040 M565,1032 L565.5,1040" stroke="#f0efe0" stroke-width="1.3" fill="none"/>
<path d="M526,1031.5 C527,1030 530,1030 531.5,1031.5 L544,1031.5 C546,1030.5 547,1028.5 547.3,1027 L548,1027.2 C548,1030 547,1032 545.5,1033.2 L545.6,1040 L544,1040 L543.4,1035.5 L535,1035.5 L534.6,1040 L533,1040 L532.5,1035 C530,1034.5 527,1034 525.4,1033 Z" fill="#eef2e6"/>
<path d="M553,1018.5 L531,1031.5" stroke="#2b3a26" stroke-width="0.4"/>
<path transform="translate(239.0,1064.3) scale(1.18,1.1) translate(-238.9,-1064.3)" d="M240.1,1077.2 L240.1,1071.3 L242.1,1071.3 L242.4,1068.9 L240.1,1068.9 L240.1,1067.5 C240.1,1066.8 240.3,1066.4 241.3,1066.4 L242.5,1066.4 L242.5,1064.4 C242.3,1064.35 241.6,1064.3 240.8,1064.3 C239,1064.3 237.7,1065.4 237.7,1067.3 L237.7,1068.9 L235.5,1068.9 L235.5,1071.3 L237.7,1071.3 L237.7,1077.2 Z" fill="#1e5631"/>
<g transform="translate(248.2,1064.6) scale(0.617)"><path d="M24,4.6 c-0.9,0.4-1.8,0.7-2.8,0.8 c1-0.6,1.8-1.6,2.2-2.7 c-1,0.6-2,1-3.1,1.2 c-0.9-1-2.2-1.6-3.6-1.6 c-2.7,0-4.9,2.2-4.9,4.9 c0,0.4,0,0.8,0.1,1.1 C7.7,8.1,4.1,6.1,1.7,3.1 C1.2,3.9,1,4.7,1,5.6 c0,1.7,0.9,3.2,2.2,4.1 C2.4,9.7,1.6,9.5,1,9.1 c0,0,0,0,0,0.1 c0,2.4,1.7,4.4,3.9,4.8 c-0.4,0.1-0.8,0.2-1.3,0.2 c-0.3,0-0.6,0-0.9-0.1 c0.6,2,2.4,3.4,4.6,3.4 c-1.7,1.3-3.8,2.1-6.1,2.1 c-0.4,0-0.8,0-1.2-0.1 c2.2,1.4,4.8,2.2,7.5,2.2 c9.1,0,14-7.5,14-14 c0-0.2,0-0.4,0-0.6 C22.500,6.400,23.300,5.500,24,4.600 z" fill="#1e5631"/></g>
<rect x="267.5" y="1064.1" width="13.3" height="13.4" rx="2.3" fill="#1e5631"/>
<rect x="269" y="1068.9" width="10.3" height="7.1" rx="0.9" fill="#f8f5ee"/>
<circle cx="274.15" cy="1071.3" r="3.5" fill="#1e5631"/><circle cx="274.15" cy="1071.3" r="1.75" fill="#f8f5ee"/><circle cx="278.4" cy="1066.4" r="0.85" fill="#f8f5ee"/>
<rect x="285.7" y="1066.6" width="14.4" height="10.4" rx="2.6" fill="#1e5631"/><path d="M291.3,1069.2 L291.3,1074.4 L295.8,1071.8 Z" fill="#f8f5ee"/>
<g fill="none" stroke="#1e5631" stroke-width="0.8"><circle cx="184.4" cy="1108.5" r="7.5"/><ellipse cx="184.4" cy="1108.5" rx="3.5999999999999996" ry="7.5"/><line x1="184.4" y1="1101.0" x2="184.4" y2="1116.0"/><line x1="176.9" y1="1108.5" x2="191.9" y2="1108.5"/><path d="M177.95000000000002,1104.75 L190.85,1104.75 M177.95000000000002,1112.25 L190.85,1112.25"/></g>
<g fill="none" stroke="#1e5631" stroke-width="3" stroke-linecap="round">
<path d="M354.38,1077.23 A14.4,14.4 0 1 0 354.38,1105.17"/>
<line x1="345.3" y1="1062.9" x2="347" y2="1072.6"/>
<line x1="327.6" y1="1071.8" x2="336.1" y2="1077.9"/>
<line x1="320.2" y1="1091.2" x2="331.2" y2="1091.2"/>
<line x1="327.6" y1="1111.1" x2="336.1" y2="1104.4"/>
<line x1="344.9" y1="1118.5" x2="347" y2="1110.6"/>
<path d="M367.4,1066.6 A14.1,14.1 0 0 1 381.3,1079.2"/>
<path d="M381.6,1080.4 A12.7,12.7 0 1 1 388.5,1103.9 L382.6,1103.9"/>
</g>
<line x1="421.5" y1="1060.3" x2="421.5" y2="1119.4" stroke="#b9bcae" stroke-width="0.8"/>
<rect x="443" y="1060" width="59.9" height="59.9" fill="#1e5c35"/>
<g transform="translate(430,1050) scale(0.14706)" fill="none" stroke="#fff" stroke-linecap="round" stroke-linejoin="round">
<path d="M94,388 C125,352 160,308 193,266 C215,236 245,192 266,153 C272,142 276,134 279,127" stroke-width="15"/>
<path d="M293,113 L309,93" stroke-width="11"/>
<path d="M279,127 C272,150 268,175 262,200 C255,235 245,280 238,305 C235,318 233,326 234,332" stroke-width="13"/>
<path d="M118,317 C130,306 142,299 154,302 C168,305 182,293 195,280" stroke-width="14"/>
<path d="M258,274 C255,292 251,314 247,332 M253,300 C261,286 273,276 287,276" stroke-width="11"/>
<path d="M297,310 C311,308 323,298 321,290 C318,282 303,288 297,302 C292,316 299,326 311,324 C321,322 329,316 335,310" stroke-width="10"/>
<path d="M381,284 C371,276 353,282 347,298 C343,312 351,322 361,318 C373,312 381,296 385,276 C382,294 379,310 383,316 C393,318 411,300 439,282 C457,274 475,270 491,267" stroke-width="10"/>
</g>
</svg>
<div class="t" style="left:165.3px;top:54.46px;font-size:23.1px;color:#ffffff;-webkit-text-stroke:0.3px #0f6c36;letter-spacing:0.760px;transform:scaleX(1.0600);transform-origin:0 0;">Reporte semanal</div>
<div class="t" style="left:165.3px;top:85.76px;font-size:24.4px;color:#ffffff;letter-spacing:0.295px;transform:scaleX(1.0600);transform-origin:0 0;"><span style="-webkit-text-stroke:0.3px #0f6c36">CIUDADANOS</span> <b class="i" style="-webkit-text-stroke:0.4px #fff">CIENTÍFICOS</b></div>
<div class="t" style="left:299.0px;top:134.43px;font-size:23.5px;color:#ffffff;-webkit-text-stroke:0.3px #0f6b36;transform:scaleX(1.0445);transform-origin:0 0;">ITAGÜÍ</div>
<div class="t" style="left:163.2px;top:168.69px;font-size:11.9px;color:#ffffff;word-spacing:0.975px;">A continuación se presentan los análisis obtenidos con las nubes</div>
<div class="t" style="left:163.2px;top:182.48px;font-size:11.9px;color:#ffffff;word-spacing:1.930px;">de Ciudadanos Científicos ubicadas en Itagüí, entre los días 23</div>
<div class="t" style="left:163.2px;top:196.38px;font-size:11.9px;color:#ffffff;letter-spacing:0.049px;">de Marzo del 2026 y 29 de Marzo del 2026</div>
<div class="t" style="left:56.8px;top:614.66px;font-size:10.4px;color:#3a3a3a;letter-spacing:0.132px;">Promedio semanal del ICA para el contaminante PM 2.5</div>
<div class="t" style="left:391.2px;top:614.66px;font-size:10.4px;color:#3a3a3a;transform:scaleX(0.9846);transform-origin:0 0;">Registros del ICA diario, en cada nube del sector</div>
<div class="t" style="left:74.1px;top:851.36px;font-size:10.4px;color:#3a3a3a;letter-spacing:0.102px;">De acuerdo con los registros de las nubes del</div>
<div class="t" style="left:74.1px;top:864.96px;font-size:10.4px;color:#3a3a3a;letter-spacing:0.037px;">sector, éste ha sido el comportamiento prome-</div>
<div class="t" style="left:74.1px;top:878.13px;font-size:10.9px;color:#3a3a3a;transform:scaleX(0.9408);transform-origin:0 0;">dio del ciclo diario para el contaminante PM 2.5</div>
<div class="t" style="left:391.0px;top:851.36px;font-size:10.4px;color:#3a3a3a;transform:scaleX(0.9707);transform-origin:0 0;">Promedio semanal del contaminante PM 2.5, de</div>
<div class="t" style="left:391.0px;top:864.96px;font-size:10.4px;color:#3a3a3a;transform:scaleX(0.9706);transform-origin:0 0;">acuerdo con registros de las nubes del sector</div>
<div class="t" style="left:139.5px;top:650.83px;font-size:16.2px;color:#ffffff;transform:scaleX(1.0546);transform-origin:0 0;"><span style="-webkit-text-stroke:0.3px #8fbf88">Ciclo</span> <b class="i">Diurno</b></div>
<div class="t" style="left:442.5px;top:650.83px;font-size:16.2px;color:#ffffff;transform:scaleX(1.0506);transform-origin:0 0;"><span style="-webkit-text-stroke:0.3px #8fbf88">Ciclo</span> <b class="i">Semanal</b></div>
<div class="t" style="left:100.3px;top:911.25px;font-size:17.0px;color:#ffffff;transform:scaleX(0.9417);transform-origin:0 0;">Promedio de <b class="i">temperatura y humedad</b> relativa en la última semana</div>
<div class="t" style="left:187.6px;top:969.15px;font-size:29px;color:#ffffff;-webkit-text-stroke:0.95px #fff;transform:scaleX(1.0384);transform-origin:0 0;">21.9°C</div>
<div class="t" style="left:466.5px;top:969.55px;font-size:29px;color:#ffffff;-webkit-text-stroke:0.95px #fff;transform:scaleX(1.0543);transform-origin:0 0;">79.7%</div>
<div class="t" style="left:177.2px;top:1083.54px;font-size:14.9px;color:#1e5631;font-weight:bold;letter-spacing:0.544px;transform:scaleX(1.0600);transform-origin:0 0;">@siatamedellin</div>
<div class="t" style="left:195.1px;top:1100.89px;font-size:12.6px;color:#1e5631;letter-spacing:0.180px;transform:scaleX(1.0600);transform-origin:0 0;">www.siata.gov.co</div>
<div class="t" style="left:347.6px;top:1084.09px;font-size:14.6px;color:#1e5631;-webkit-text-stroke:0.3px #1e5631;transform:scaleX(0.9471);transform-origin:0 0;">SIATA</div>
<div class="t" style="left:449.2px;top:1105.65px;font-size:7.0px;color:#ffffff;font-weight:bold;transform:scaleX(0.8192);transform-origin:0 0;">METROPOLITANA</div>
<div class="t" style="left:449.6px;top:1113.04px;font-size:6.9px;color:#ffffff;font-weight:bold;transform:scaleX(0.9855);transform-origin:0 0;">Valle de Aburrá</div>
</body></html>
